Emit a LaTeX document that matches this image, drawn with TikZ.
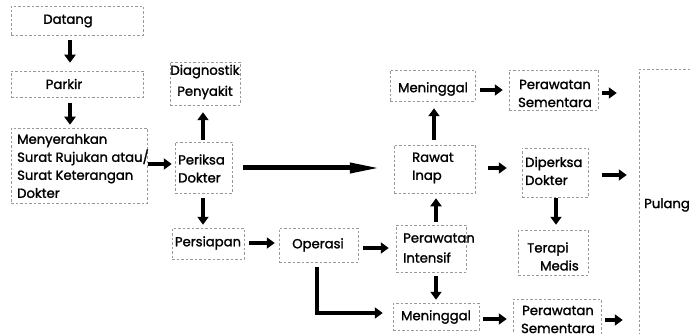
\documentclass[tikz,border=0pt]{standalone}
\usepackage{fontspec}
\setmainfont{Poppins}[FakeBold=1.5]
\usetikzlibrary{arrows.meta}
\begin{document}
\begin{tikzpicture}[x=1pt,y=-1pt,
  box/.style={draw=black!40, dash pattern=on 2.5pt off 2pt, line width=0.5pt, inner sep=0pt},
  txt/.style={inner sep=0pt, font=\fontsize{13.2}{18}\selectfont, align=center},
  txtl/.style={txt, align=left},
  arr/.style={line width=4pt, -{Triangle[length=8pt,width=11pt]}},
  longarr/.style={line width=5pt, -{Triangle[length=32pt,width=9.5pt]}}]
\clip (0,0) rectangle (691,334);
\fill[white] (0,0) rectangle (691,334);
% boxes
\node[box, minimum width=132pt, minimum height=29pt] (datang) at (77,20.5) {};
\node[box, minimum width=132pt, minimum height=26pt] (parkir) at (77,84) {};
\node[box, minimum width=136pt, minimum height=75pt] (menyer) at (79,165.5) {};
\node[box, minimum width=57pt, minimum height=51pt] (periksa) at (203.5,167.5) {};
\node[box, minimum width=70pt, minimum height=43pt] (diag) at (205,83.5) {};
\node[box, minimum width=72pt, minimum height=31pt] (persiapan) at (208,243.5) {};
\node[box, minimum width=79pt, minimum height=34pt] (operasi) at (318.5,245) {};
\node[box, minimum width=70pt, minimum height=47pt] (intensif) at (431,248.5) {};
\node[box, minimum width=81pt, minimum height=48pt] (rawat) at (434.5,169) {};
\node[box, minimum width=85pt, minimum height=31pt] (men1) at (432.5,85.5) {};
\node[box, minimum width=89pt, minimum height=40pt] (sem1) at (553.5,90) {};
\node[box, minimum width=66pt, minimum height=49pt] (dip) at (555,172.5) {};
\node[box, minimum width=70pt, minimum height=45pt] (terapi) at (553,252.5) {};
\node[box, minimum width=86pt, minimum height=27pt] (men2) at (436,316.5) {};
\node[box, minimum width=88pt, minimum height=46pt] (sem2) at (557,322) {};
\node[box, minimum width=81pt, minimum height=276pt] (pulang) at (679.5,207) {};
% texts
\node[txt] (datangT) at (68,21) {Datang};
\node[txt] (parkirT) at (64,84) {Parkir};
\node[txtl, anchor=west] (menyerT) at (17,166) {Menyerahkan\\Surat Rujukan atau/\\Surat Keterangan\\Dokter};
\node[txtl, anchor=west] (periksaT) at (178,168.5) {Periksa\\Dokter};
\node[txt] (diagT) at (205,82) {Diagnostik\\[3pt]Penyakit};
\node[txt] (persiapanT) at (208,243) {Persiapan};
\node[txt] (operasiT) at (318,245) {Operasi};
\node[txtl, anchor=west] (intensifT) at (403,248) {Perawatan\\[2pt]Intensif};
\node[txtl, anchor=west] (rawatT) at (412,168) {Rawat\\Inap};
\node[txt] (men1T) at (433,89) {Meninggal};
\node[txt] (sem1T) at (555,93.5) {Perawatan\\Sementara};
\node[txtl, anchor=west] (dipT) at (525,171) {Diperksa\\Dokter};
\node[txtl, anchor=west] (terapiT) at (527,256.5) {Terapi\\\hspace{13pt}Medis};
\node[txt] (men2T) at (436,317) {Meninggal};
\node[txt] (sem2T) at (558,319.5) {Perawatan\\Sementara};
\node[txtl, anchor=west] (pulangT) at (644,205) {Pulang};
% arrows
\draw[arr, shorten <=5pt, shorten >=8pt] ([xshift=-7pt]datang.south) -- ([xshift=-7pt]parkir.north);
\draw[arr, shorten <=6pt, shorten >=3pt] ([xshift=-7pt]parkir.south) -- ([xshift=-9pt]menyer.north);
\draw[arr, shorten <=1pt, shorten >=3pt] ([yshift=1.5pt]menyer.east) -- ([yshift=3.5pt]periksa.west);
\draw[arr, shorten <=2pt, shorten >=7pt] ([xshift=-0.5pt]periksa.north) -- ([xshift=-2pt]diag.south);
\draw[arr, shorten <=5pt, shorten >=3pt] ([xshift=-0.5pt]periksa.south) -- ([xshift=-5pt]persiapan.north);
\draw[longarr, shorten <=11pt, shorten >=12pt] ([yshift=-0.5pt]periksa.east) -- ([yshift=1pt]rawat.west);
\draw[arr, shorten <=5pt, shorten >=4pt] ([yshift=0.5pt]persiapan.east) -- ([yshift=2pt]operasi.west);
\draw[arr, shorten <=5pt, shorten >=7pt] ([yshift=-3pt]operasi.east) -- ([yshift=0.5pt]intensif.west);
\draw[arr, shorten <=3pt, shorten >=5pt] ([xshift=5pt]intensif.north) -- ([xshift=1.5pt]rawat.south);
\draw[arr, shorten <=4pt, shorten >=3pt] ([xshift=5pt]intensif.south) -- (men2.north);
\draw[arr, shorten <=5pt, shorten >=10pt] ([xshift=-1.5pt]operasi.south) |- ([yshift=3.5pt]men2.west);
\draw[arr, shorten <=5pt, shorten >=7pt] ([xshift=-0.5pt]rawat.north) -- ([xshift=1.5pt]men1.south);
\draw[arr, shorten <=5pt, shorten >=6pt] ([yshift=-4.5pt]men1.east) -- (sem1.west);
\draw[arr, shorten <=4pt, shorten >=22pt] ([yshift=-3pt]sem1.east) -- ([yshift=114pt]pulang.west);
\draw[arr, shorten <=13pt, shorten >=15pt] ([yshift=1pt]rawat.east) -- ([yshift=4.5pt]dip.west);
\draw[arr, shorten <=14pt, shorten >=12pt] ([yshift=-2.5pt]dip.east) -- ([yshift=32pt]pulang.west);
\draw[arr, shorten <=1pt, shorten >=5pt] ([xshift=1pt]dip.south) -- ([xshift=3pt]terapi.north);
\draw[arr, shorten <=4pt, shorten >=6pt] ([yshift=-2.5pt]men2.east) -- ([yshift=3pt]sem2.west);
\draw[arr, shorten <=4pt, shorten >=16pt] ([yshift=2pt]sem2.east) -- ([yshift=-113pt]pulang.west);
\end{tikzpicture}
\end{document}
